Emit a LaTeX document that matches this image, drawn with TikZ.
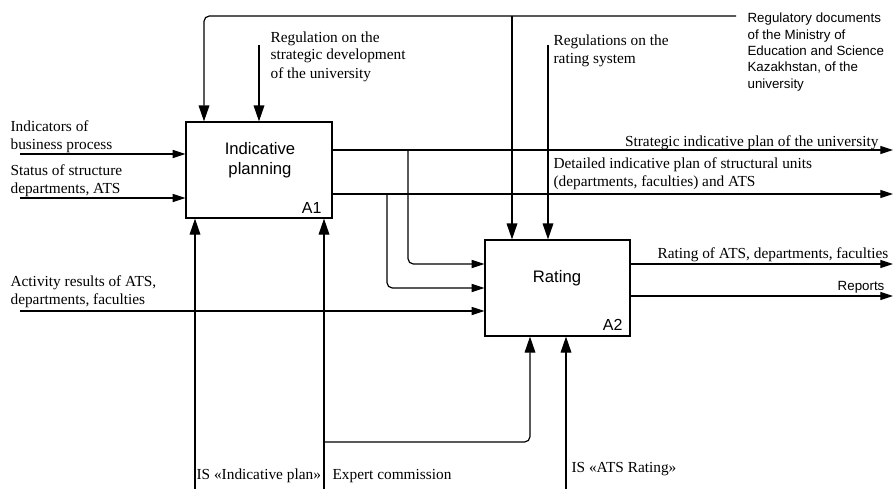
\documentclass[tikz,border=0pt]{standalone}
\usepackage{fontspec}
\setmainfont{Liberation Serif}
\setsansfont{Liberation Sans}
\usetikzlibrary{arrows.meta, calc}

\begin{document}
\begin{tikzpicture}[
  x=0.75pt, y=-0.75pt,
  line width=0.9pt,
  harr/.style={-{Triangle[length=9.5pt,width=6pt]}},
  varr/.style={-{Triangle[length=12pt,width=8pt]}},
  fbox/.style={draw, minimum width=109.5pt, minimum height=72pt, inner sep=0pt},
  lbl/.style={font=\fontsize{11.5}{13.5}\selectfont, align=left, anchor=base west, inner sep=0pt},
  slbl/.style={font=\sffamily\fontsize{10}{12.2}\selectfont, align=left, anchor=base west, inner sep=0pt},
  ttl/.style={font=\sffamily\fontsize{12.5}{15}\selectfont, align=center, anchor=base, inner sep=0pt},
  num/.style={font=\sffamily\fontsize{12}{14}\selectfont, anchor=base east, inner sep=0pt},
  roundturn/.style={rounded corners=4pt}
]
\useasboundingbox (0,0) rectangle (894,489);

% Function boxes
\node[fbox] (a1) at (259,170) {};
\node[ttl] (a1t) at (260,174) {Indicative\\planning};
\node[num] (a1n) at (322,213) {A1};
\node[fbox, minimum width=108.75pt] (a2) at (557.5,288) {};
\node[ttl] (a2t) at (557,282) {Rating};
\node[num] (a2n) at (623,330) {A2};

% Free ends of the arrows
\coordinate (mes) at (736,16);
\coordinate (m1) at (204,16);
\coordinate (m2) at (512,16);
\coordinate (rsd) at (259,45);
\coordinate (rrs) at (548,45);
\coordinate (ibp) at (20,154);
\coordinate (ssd) at (20,198);
\coordinate (ara) at (20,311);
\coordinate (sip) at (893,150);
\coordinate (dip) at (893,194);
\coordinate (b1) at (408,150);
\coordinate (b2) at (387,194);
\coordinate (rat) at (893,264);
\coordinate (rep) at (893,296);
\coordinate (isip) at (195,489);
\coordinate (exc) at (324,489);
\coordinate (e1) at (324,442);
\coordinate (e2) at (530,442);
\coordinate (isr) at (566,489);

% Controls
\draw[varr, roundturn] (mes) -- (m1) -- (m1 |- a1.north);
\draw[varr] (m2) -- (m2 |- a2.north);
\draw[varr] (rsd) -- (rsd |- a1.north);
\draw[varr] (rrs) -- (rrs |- a2.north);

% Inputs
\draw[harr] (ibp) -- (ibp -| a1.west);
\draw[harr] (ssd) -- (ssd -| a1.west);
\draw[harr] (ara) -- (ara -| a2.west);

% Outputs of A1, also fed into A2
\draw[harr] (a1.east |- sip) -- (sip);
\draw[harr] (a1.east |- dip) -- (dip);
\draw[harr, roundturn] (b1) |- ([yshift=18pt]a2.west);
\draw[harr, roundturn] (b2) |- (a2.west);

% Outputs of A2
\draw[harr] ([yshift=18pt]a2.east) -- (rat);
\draw[harr] (a2.east |- rep) -- (rep);

% Mechanisms
\draw[varr] (isip) -- (isip |- a1.south);
\draw[varr] (exc) -- (exc |- a1.south);
\draw[varr, roundturn] (e1) -- (e2) -- (e2 |- a2.south);
\draw[varr] (isr) -- (isr |- a2.south);

% Labels (base = last line)
\node[lbl] (l-rsd) at (270,78) {Regulation on the\\strategic development\\of the university};
\node[lbl] (l-rrs) at (553,64) {Regulations on the\\rating system};
\node[slbl] (l-mes) at (747,88) {Regulatory documents\\of the Ministry of\\Education and Science\\Kazakhstan, of the\\university};
\node[lbl] (l-ibp) at (10,149) {Indicators of\\business process};
\node[lbl] (l-ssd) at (10,193) {Status of structure\\departments, ATS};
\node[lbl] (l-ara) at (10,304) {Activity results of ATS,\\departments, faculties};
\node[lbl, anchor=base east] (l-sip) at (879,146) {Strategic indicative plan of the university};
\node[lbl] (l-dip) at (553,186) {Detailed indicative plan of structural units\\(departments, faculties) and ATS};
\node[lbl, anchor=base east] (l-rat) at (889,258) {Rating of ATS, departments, faculties};
\node[slbl, anchor=base east] (l-rep) at (885,290) {Reports};
\node[lbl] (l-isip) at (196,479) {IS «Indicative plan»};
\node[lbl] (l-exc) at (332,479) {Expert commission};
\node[lbl] (l-isr) at (571,472) {IS «ATS Rating»};

\end{tikzpicture}
\end{document}
